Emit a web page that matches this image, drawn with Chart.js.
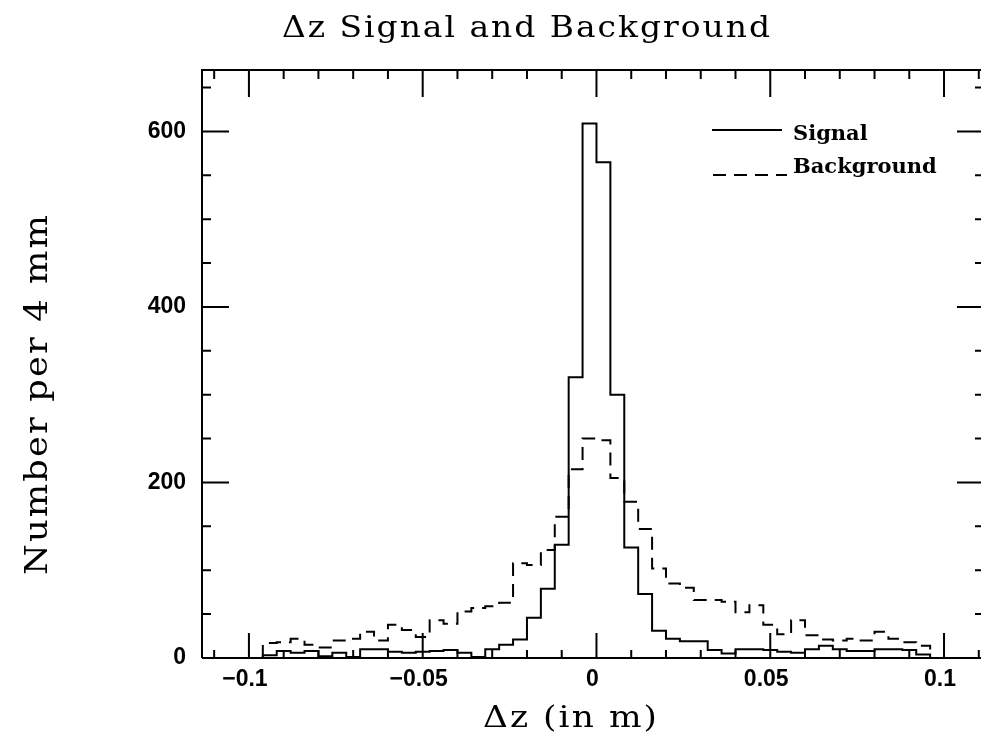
<!DOCTYPE html>
<html><head><meta charset="utf-8">
<script src="https://cdn.jsdelivr.net/npm/chart.js@4"></script>
<style>
html,body{margin:0;padding:0;background:#fff;overflow:hidden;width:981px;height:733px;}
#wrap{position:relative;width:990px;height:733px;}
</style></head><body>
<div id="wrap"><canvas id="c" width="990" height="733"></canvas></div>
<script>
// Bin left edges (4 mm bins), last bin ends at histEnd
const binLeft = [-0.096,-0.092,-0.088,-0.084,-0.080,-0.076,-0.072,-0.068,-0.064,-0.060,
  -0.056,-0.052,-0.048,-0.044,-0.040,-0.036,-0.032,-0.028,-0.024,-0.020,
  -0.016,-0.012,-0.008,-0.004,0.000,0.004,0.008,0.012,0.016,0.020,
  0.024,0.028,0.032,0.036,0.040,0.044,0.048,0.052,0.056,0.060,
  0.064,0.068,0.072,0.076,0.080,0.084,0.088,0.092];
const histEnd = 0.096;
const signal = [3,8,6,8,2,6,1,10,10,7,
  6,7,8,9,6,1,10,15,21,46,
  79,129,320,609,565,300,126,73,31,22,
  19,19,9,5,10,10,9,7,6,10,
  14,10,8,8,10,10,9,4];
const background = [17,18,22,15,12,20,22,30,20,38,
  32,24,43,39,53,57,59,63,108,106,
  123,161,215,250,248,205,178,147,102,85,
  80,66,66,64,52,60,38,27,43,26,
  21,20,22,20,30,22,18,14];
const xMajorTicks = [-0.1,-0.05,0,0.05,0.1];
const xTickLabels = ['\u22120.1','\u22120.05','0','0.05','0.1'];
const xMinorTicks = [-0.11,-0.09,-0.08,-0.07,-0.06,-0.04,-0.03,-0.02,-0.01,0.01,0.02,0.03,0.04,0.06,0.07,0.08,0.09,0.11];
const yMajorTicks = [0,200,400,600];
const yTickLabels = ['0','200','400','600'];
const yMinorTicks = [50,100,150,250,300,350,450,500,550,650];
const seriesNames = ['Signal','Background'];
const titleText = '\u0394z Signal and Background';
const xTitle = '\u0394z (in m)';
const yTitle = 'Number per 4 mm';

function stepData(vals){
  const pts=[{x:binLeft[0],y:0}];
  binLeft.forEach((x,i)=>pts.push({x:x,y:vals[i]}));
  pts.push({x:histEnd,y:0});
  return pts;
}

function fitText(ctx, text, x, y, targetW, size){
  ctx.save();
  ctx.font = size + 'px "DejaVu Serif"';
  const ls = 0.06*size;
  ctx.letterSpacing = ls + 'px';
  const w = ctx.measureText(text).width - ls;
  const sx = targetW / w;
  ctx.textAlign = 'left';
  ctx.translate(x - targetW/2, y);
  ctx.scale(sx, 1);
  ctx.fillText(text, 0, 0);
  ctx.restore();
}

const decor = {
  id:'decor',
  afterDatasetsDraw(chart){
    const ctx = chart.ctx, xs = chart.scales.x, ys = chart.scales.y, a = chart.chartArea;
    ctx.save();
    ctx.strokeStyle = '#000'; ctx.lineWidth = 2; ctx.lineCap='butt';
    ctx.beginPath();
    ctx.moveTo(a.left, a.bottom); ctx.lineTo(a.right, a.bottom);
    ctx.moveTo(a.left, a.bottom); ctx.lineTo(a.left, a.top); ctx.lineTo(a.right, a.top);
    ctx.lineTo(a.right, a.bottom);
    ctx.stroke();
    ctx.beginPath();
    xMajorTicks.forEach(v=>{const p=xs.getPixelForValue(v);
      ctx.moveTo(p,a.bottom); ctx.lineTo(p,a.bottom-25);
      ctx.moveTo(p,a.top); ctx.lineTo(p,a.top+27);});
    xMinorTicks.forEach(v=>{const p=xs.getPixelForValue(v);
      ctx.moveTo(p,a.bottom); ctx.lineTo(p,a.bottom-8);
      ctx.moveTo(p,a.top); ctx.lineTo(p,a.top+9);});
    yMajorTicks.forEach(v=>{const p=ys.getPixelForValue(v);
      ctx.moveTo(a.left,p); ctx.lineTo(a.left+27,p);
      ctx.moveTo(a.right,p); ctx.lineTo(a.right-27,p);});
    yMinorTicks.forEach(v=>{const p=ys.getPixelForValue(v);
      ctx.moveTo(a.left,p); ctx.lineTo(a.left+9,p);
      ctx.moveTo(a.right,p); ctx.lineTo(a.right-9,p);});
    ctx.stroke();
    // legend
    ctx.beginPath(); ctx.moveTo(712,130); ctx.lineTo(782,130); ctx.stroke();
    ctx.setLineDash([13,8]);
    ctx.beginPath(); ctx.moveTo(713,175); ctx.lineTo(787,175); ctx.stroke();
    ctx.setLineDash([]);
    ctx.fillStyle='#000';
    ctx.font = 'bold 21px "DejaVu Serif"';
    ctx.textAlign='left'; ctx.textBaseline='alphabetic';
    ctx.fillText(seriesNames[0], 793, 140);
    ctx.fillText(seriesNames[1], 793, 173);
    // titles
    fitText(ctx, titleText, 526, 37, 488, 30);
    fitText(ctx, xTitle, 570, 727, 174, 30);
    ctx.translate(47, 395); ctx.rotate(-Math.PI/2);
    fitText(ctx, yTitle, 0, 0, 360, 31);
    ctx.restore();
  }
};

new Chart(document.getElementById('c'), {
  type:'line',
  data:{datasets:[
    {label:seriesNames[0], data:stepData(signal), stepped:true, borderColor:'#000', borderWidth:2,
     pointRadius:0, fill:false, tension:0},
    {label:seriesNames[1], data:stepData(background), stepped:true, borderColor:'#000', borderWidth:2,
     borderDash:[13,8], pointRadius:0, fill:false, tension:0}
  ]},
  options:{
    responsive:false, animation:false, devicePixelRatio:1,
    layout:{padding:{top:70,right:6,bottom:0,left:0}},
    plugins:{legend:{display:false}, title:{display:false}, tooltip:{enabled:false}},
    scales:{
      x:{type:'linear', min:-0.1135, max:0.1115,
        grid:{display:false}, border:{display:false},
        afterBuildTicks:(s)=>{s.ticks = xMajorTicks.map(v=>({value:v}));},
        afterFit:(s)=>{s.height = 75;},
        ticks:{autoSkip:false, maxRotation:0, padding:0, labelOffset:-4, color:'#000',
          font:{family:'"Liberation Sans"', weight:'bold', size:23},
          callback:(v)=>{const i=xMajorTicks.indexOf(v); return i>=0?xTickLabels[i]:'';}}
      },
      y:{type:'linear', min:0, max:670,
        grid:{display:false, drawTicks:false}, border:{display:false},
        afterBuildTicks:(s)=>{s.ticks = yMajorTicks.map(v=>({value:v}));},
        afterFit:(s)=>{s.width = 202;},
        ticks:{autoSkip:false, padding:16, crossAlign:'near', color:'#000',
          font:{family:'"Liberation Sans"', weight:'bold', size:23},
          callback:(v)=>{const i=yMajorTicks.indexOf(v); return i>=0?yTickLabels[i]:'';}}
      }
    }
  },
  plugins:[decor]
});
</script>
</body></html>
